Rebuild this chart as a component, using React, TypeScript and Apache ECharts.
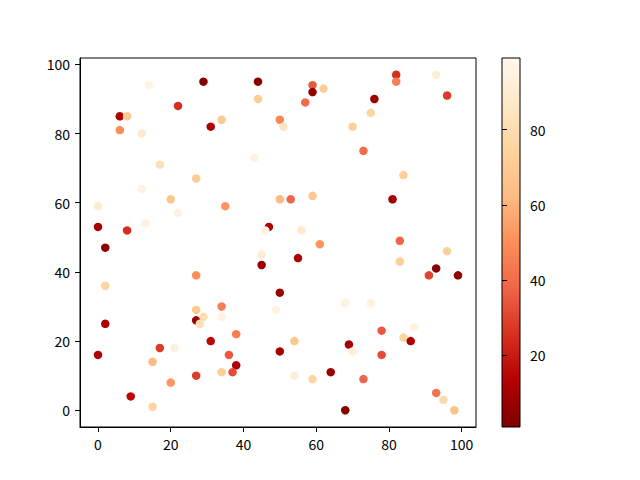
import React, { useEffect, useRef } from 'react';
import * as echarts from 'echarts';

// scatter data: x, y and colour value for each point
const xs = [14, 29, 44, 44, 22, 6, 8, 31, 34, 50, 51, 6, 12, 17, 43, 27, 12, 20, 35, 50, 0, 22, 13, 0, 8, 47, 46, 2, 82, 82, 93, 96, 59, 59, 62, 76, 57, 75, 70, 73, 84, 53, 59, 81, 56, 61, 83, 2, 2, 0, 9, 15, 15, 17, 21, 20, 27, 27, 27, 29, 28, 31, 27, 34, 34, 34, 36, 38, 38, 37, 45, 45, 50, 49, 50, 55, 96, 83, 93, 91, 99, 68, 75, 78, 87, 84, 86, 54, 69, 70, 78, 54, 59, 64, 73, 68, 93, 95, 98];
const ys = [94, 95, 95, 90, 88, 85, 85, 82, 84, 84, 82, 81, 80, 71, 73, 67, 64, 61, 59, 61, 59, 57, 54, 53, 52, 53, 52, 47, 97, 95, 97, 91, 94, 92, 93, 90, 89, 86, 82, 75, 68, 61, 62, 61, 52, 48, 49, 36, 25, 16, 4, 1, 14, 18, 18, 8, 39, 29, 26, 27, 25, 20, 10, 30, 27, 11, 16, 22, 13, 11, 45, 42, 34, 29, 17, 44, 46, 43, 41, 39, 39, 31, 31, 23, 24, 21, 20, 20, 19, 17, 16, 10, 9, 11, 9, 0, 5, 3, 0];
const cs = [95, 2, 3, 70, 25, 12, 70, 12, 70, 48, 85, 50, 88, 82, 95, 70, 95, 68, 52, 62, 90, 95, 95, 10, 25, 12, 95, 5, 25, 45, 92, 28, 35, 5, 70, 8, 40, 75, 72, 40, 72, 38, 68, 10, 88, 52, 38, 75, 12, 12, 15, 75, 62, 28, 95, 52, 50, 68, 8, 80, 82, 15, 28, 45, 95, 72, 35, 45, 12, 32, 90, 8, 8, 95, 10, 12, 72, 72, 3, 30, 5, 95, 95, 35, 95, 75, 12, 68, 10, 92, 32, 92, 75, 8, 38, 3, 42, 78, 65];

const axisTicks = [0, 20, 40, 60, 80, 100];
const colorTicks = [20, 40, 60, 80];
const cMin = 1;
const cMax = 99;

// OrRd, light to dark
const orRd = ['#fff7ec', '#fee8c8', '#fdd49e', '#fdbb84', '#fc8d59', '#ef6548', '#d7301f', '#b30000', '#7f0000'];

const font = 'Noto Sans CJK SC';

export default function App() {
  const chartRef = useRef<HTMLDivElement>(null);

  useEffect(() => {
    document.body.style.margin = '0';
    if (!chartRef.current) return;
    const chart = echarts.init(chartRef.current, null, { renderer: 'svg' });

    const labelStyle = { color: '#000', fontSize: 14, fontFamily: font };

    chart.setOption({
      animation: false,
      backgroundColor: '#fff',
      grid: [
        { left: 80, right: 164, top: 58, bottom: 53, show: true, borderColor: '#000', borderWidth: 1 },
        { left: 502, width: 18, top: 58, height: 369 },
      ],
      xAxis: [
        {
          type: 'value',
          gridIndex: 0,
          min: -4.95,
          max: 103.95,
          splitLine: { show: false },
          axisLine: { show: true, onZero: false, lineStyle: { color: '#000' } },
          axisTick: { show: true, length: 5, customValues: axisTicks, lineStyle: { color: '#000' } },
          axisLabel: { ...labelStyle, margin: 10, customValues: axisTicks },
        },
        {
          type: 'value',
          gridIndex: 1,
          min: 0,
          max: 1,
          show: false,
        },
      ],
      yAxis: [
        {
          type: 'value',
          gridIndex: 0,
          min: -4.85,
          max: 101.85,
          splitLine: { show: false },
          axisLine: { show: true, onZero: false, lineStyle: { color: '#000' } },
          axisTick: { show: true, length: 5, customValues: axisTicks, lineStyle: { color: '#000' } },
          axisLabel: { ...labelStyle, margin: 10, customValues: axisTicks },
        },
        {
          type: 'value',
          gridIndex: 1,
          position: 'right',
          min: cMin,
          max: cMax,
          splitLine: { show: false },
          axisLine: { show: false },
          axisTick: { show: true, length: 5, customValues: colorTicks, lineStyle: { color: '#000' } },
          axisLabel: { ...labelStyle, margin: 10, customValues: colorTicks },
        },
      ],
      visualMap: {
        type: 'continuous',
        show: false,
        min: cMin,
        max: cMax,
        dimension: 2,
        seriesIndex: 0,
        inRange: { color: [...orRd].reverse() },
      },
      graphic: [
        {
          type: 'rect',
          z: 0,
          shape: { x: 502, y: 58, width: 18, height: 369 },
          style: {
            fill: {
              type: 'linear',
              x: 0,
              y: 0,
              x2: 0,
              y2: 1,
              colorStops: orRd.map((c, i) => ({ offset: i / (orRd.length - 1), color: c })),
            },
            stroke: '#000',
            lineWidth: 1,
          },
        },
      ],
      series: [
        {
          type: 'scatter',
          xAxisIndex: 0,
          yAxisIndex: 0,
          symbolSize: 8.5,
          itemStyle: { opacity: 1 },
          data: xs.map((x, i) => [x, ys[i], cs[i]]),
        },
      ],
    });

    return () => {
      chart.dispose();
    };
  }, []);

  return <div ref={chartRef} style={{ width: 640, height: 480 }} />;
}
